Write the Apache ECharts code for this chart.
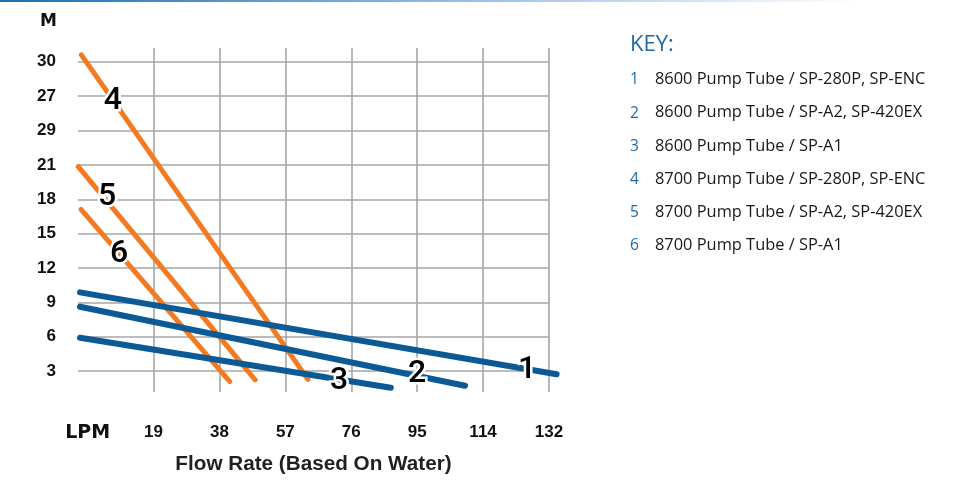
<!DOCTYPE html>
<html>
<head>
<meta charset="utf-8">
<script src="https://cdn.jsdelivr.net/npm/echarts@6/dist/echarts.min.js"></script>
<style>
html,body{margin:0;padding:0;background:#fff;}
#chart{width:958px;height:480px;}
</style>
</head>
<body>
<div id="chart"></div>
<script>
// ---- data ----
var xTickValues = [0, 19, 38, 57, 76, 95, 114, 133];
var xTickLabels = ['LPM', '19', '38', '57', '76', '95', '114', '132'];
var yTickValues = [3, 6, 9, 12, 15, 18, 21, 24, 27, 30];
var yTickLabels = ['3', '6', '9', '12', '15', '18', '21', '29', '27', '30'];

var seriesNames = ['1', '2', '3', '4', '5', '6'];
var keyLabels = [
  '8600 Pump Tube / SP-280P, SP-ENC',
  '8600 Pump Tube / SP-A2, SP-420EX',
  '8600 Pump Tube / SP-A1',
  '8700 Pump Tube / SP-280P, SP-ENC',
  '8700 Pump Tube / SP-A2, SP-420EX',
  '8700 Pump Tube / SP-A1'
];
// each curve: [flow, head] start and end points
var line1 = [[-2.2, 10.0], [135.2, 2.9]];
var line2 = [[-2.2, 8.75], [108.8, 1.9]];
var line3 = [[-2.2, 6.06], [87.4, 1.72]];
var line4 = [[-1.8, 30.6], [63.5, 2.45]];
var line5 = [[-2.7, 20.9], [48.3, 2.4]];
var line6 = [[-1.9, 17.2], [41.0, 2.25]];
// where each number tag sits on its curve
var tag1 = [126.7, 3.3];
var tag2 = [95.0, 2.95];
var tag3 = [72.5, 2.35];
var tag4 = [7.3, 26.6];
var tag5 = [5.6, 18.3];
var tag6 = [9.05, 13.35];

var lines = [line1, line2, line3, line4, line5, line6];
var tags = [tag1, tag2, tag3, tag4, tag5, tag6];
var BLUE = '#0b5a96';
var ORANGE = '#f47a22';

// axis extents
var X_MIN = -2.77, X_MAX = 133, Y_MIN = 1.18, Y_MAX = 31.2;
var W = 958, H = 480;
var G = {left: 78, right: 409, top: 48, bottom: 86};
// a wider, invisible overlay grid with the same scale so curves may run past the frame
var G2right = 385;
var pxPerX = (W - G.left - G.right) / (X_MAX - X_MIN);
var X2_MAX = X_MIN + (W - G.left - G2right) / pxPerX;

var chart = echarts.init(document.getElementById('chart'), null, {renderer: 'canvas'});

var series = lines.map(function (d, i) {
  var blue = i < 3;
  return {
    name: seriesNames[i],
    type: 'line',
    xAxisIndex: 1,
    yAxisIndex: 1,
    data: d,
    symbol: 'none',
    clip: false,
    z: blue ? 4 : 3,
    lineStyle: {color: blue ? BLUE : ORANGE, width: blue ? 6 : 5, cap: 'round'},
    markPoint: {
      symbol: 'circle',
      symbolSize: 0,
      z: 10,
      data: [{coord: tags[i], value: seriesNames[i]}],
      label: {
        show: true,
        position: 'inside',
        formatter: seriesNames[i],
        color: '#000',
        fontFamily: 'Roboto, "Liberation Sans", Arial, sans-serif',
        fontWeight: 500,
        fontSize: 32,
        textBorderColor: '#fff',
        textBorderWidth: 5
      }
    }
  };
});

var keyGraphics = [];
keyGraphics.push({
  type: 'text', left: 630, top: 34,
  style: {text: 'KEY:', fill: '#1d6aa8', font: '22px "Open Sans", sans-serif'}
});
keyLabels.forEach(function (t, i) {
  keyGraphics.push({
    type: 'text', left: 630, top: 72 + i * 33.2,
    style: {text: seriesNames[i], fill: '#1d6aa8', font: '15.5px "Open Sans", sans-serif'}
  });
  keyGraphics.push({
    type: 'text', left: 655, top: 71.5 + i * 33.2,
    style: {text: t, fill: '#1a1718', font: '16.4px "Open Sans", sans-serif'}
  });
});
keyGraphics.push({
  type: 'text', left: 40, top: 13,
  style: {text: 'M', fill: '#111', font: 'bold 17px "DejaVu Sans", sans-serif'}
});
keyGraphics.push({
  type: 'rect', left: 0, top: 0,
  shape: {width: 958, height: 2},
  style: {fill: new echarts.graphic.LinearGradient(0, 0, 1, 0, [
    {offset: 0, color: '#1a6fb5'},
    {offset: 0.55, color: '#a9c8ea'},
    {offset: 0.9, color: '#ffffff'}
  ])}
});

var option = {
  animation: false,
  backgroundColor: '#fff',
  grid: [
    {left: G.left, right: G.right, top: G.top, bottom: G.bottom},
    {left: G.left, right: G2right, top: G.top, bottom: G.bottom}
  ],
  xAxis: [{
    type: 'value',
    gridIndex: 0,
    min: X_MIN,
    max: X_MAX,
    axisLine: {show: false},
    axisTick: {show: false, customValues: xTickValues.slice(1)},
    splitLine: {show: true, lineStyle: {color: '#a6a6a6', width: 1.6}},
    axisLabel: {
      customValues: xTickValues,
      margin: 32,
      color: '#111',
      fontWeight: 'bold',
      fontSize: 17,
      fontFamily: 'Liberation Sans, Arial, sans-serif',
      formatter: function (v) {
        var k = xTickValues.indexOf(v);
        return k === 0 ? '{l|' + xTickLabels[k] + '}' : (k >= 0 ? xTickLabels[k] : '');
      },
      rich: {l: {fontSize: 19, fontWeight: 'bold', color: '#111', fontFamily: '"DejaVu Sans", sans-serif'}}
    },
    name: 'Flow Rate (Based On Water)',
    nameLocation: 'middle',
    nameGap: 62,
    nameTextStyle: {color: '#231f20', fontWeight: 'bold', fontSize: 20.7, fontFamily: 'Liberation Sans, Arial, sans-serif'}
  }, {
    type: 'value',
    gridIndex: 1,
    min: X_MIN,
    max: X2_MAX,
    show: false,
    splitLine: {show: false}
  }],
  yAxis: [{
    type: 'value',
    gridIndex: 0,
    min: Y_MIN,
    max: Y_MAX,
    axisLine: {show: false},
    axisTick: {show: false, customValues: yTickValues},
    splitLine: {show: true, lineStyle: {color: '#a6a6a6', width: 1.6}},
    axisLabel: {
      customValues: yTickValues,
      margin: 22,
      color: '#111',
      fontWeight: 'bold',
      fontSize: 17,
      fontFamily: 'Liberation Sans, Arial, sans-serif',
      formatter: function (v) {
        var k = yTickValues.indexOf(v);
        return k >= 0 ? yTickLabels[k] : '';
      }
    }
  }, {
    type: 'value',
    gridIndex: 1,
    min: Y_MIN,
    max: Y_MAX,
    show: false,
    splitLine: {show: false}
  }],
  graphic: keyGraphics,
  series: series
};
chart.setOption(option);
</script>
</body>
</html>
